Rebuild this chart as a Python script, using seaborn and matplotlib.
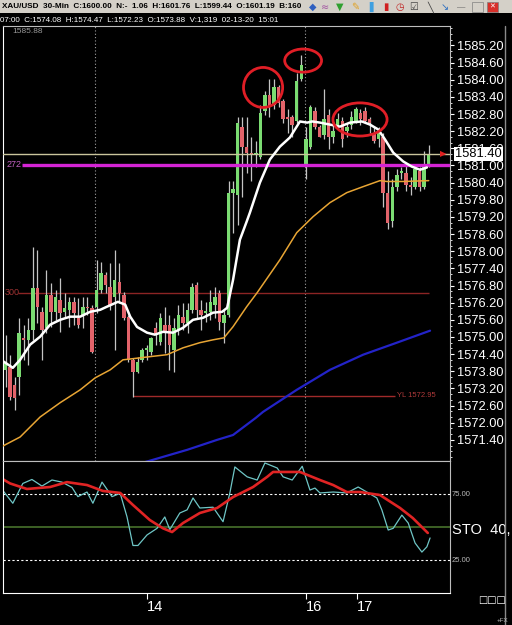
import numpy as np
import pandas as pd
import matplotlib
matplotlib.use("Agg")
from matplotlib import pyplot as plt
from matplotlib import transforms
from matplotlib.lines import Line2D
from matplotlib.patches import Ellipse, Rectangle
from matplotlib.ticker import MultipleLocator
import seaborn as sns

# XAU/USD 30-min candles (bar index 0..94)
opens = [1575.25, 1573.85, 1573.96, 1573.33, 1573.61, 1574.97, 1574.90, 1575.25, 1576.72, 1575.88,
         1575.32, 1576.48, 1575.88, 1576.30, 1575.88, 1575.95, 1576.23, 1575.67, 1575.78, 1576.06,
         1576.02, 1576.06, 1576.65, 1577.18, 1576.76, 1576.41, 1576.93, 1576.48, 1575.71, 1574.20,
         1573.78, 1574.20, 1574.55, 1574.48, 1575.32, 1574.83, 1575.43, 1575.43, 1574.55, 1575.25,
         1575.71, 1575.50, 1575.95, 1576.83, 1575.95, 1575.85, 1575.88, 1576.13, 1576.55, 1575.50,
         1575.78, 1580.05, 1579.98, 1582.36, 1581.63, 1581.45, 1581.38, 1581.31, 1582.89, 1583.48,
         1583.13, 1583.73, 1583.24, 1582.68, 1582.68, 1582.54, 1584.01, 1581.03, 1581.63, 1582.89,
         1582.33, 1582.08, 1582.78, 1582.01, 1582.43, 1582.54, 1582.19, 1582.43, 1582.54, 1582.85,
         1582.89, 1582.61, 1582.15, 1581.91, 1582.01, 1580.05, 1579.04, 1580.23, 1580.72, 1580.75,
         1580.33, 1580.26, 1580.79, 1580.26, 1581.03]
highs = [1575.60, 1575.08, 1574.38, 1573.61, 1575.67, 1575.43, 1575.67, 1578.16, 1578.05, 1576.06,
         1577.35, 1576.90, 1576.65, 1577.07, 1576.55, 1576.41, 1576.41, 1576.37, 1576.41, 1576.41,
         1576.13, 1577.70, 1577.63, 1577.28, 1577.60, 1578.05, 1577.60, 1576.58, 1575.78, 1574.27,
         1574.31, 1574.62, 1574.73, 1575.01, 1575.53, 1575.85, 1576.06, 1575.78, 1575.67, 1576.13,
         1576.20, 1576.20, 1576.90, 1576.93, 1576.30, 1576.23, 1576.65, 1576.76, 1576.65, 1575.95,
         1580.44, 1580.44, 1582.71, 1582.71, 1582.71, 1582.01, 1581.84, 1583.13, 1583.59, 1584.01,
         1584.01, 1583.83, 1583.31, 1582.96, 1582.78, 1584.25, 1584.88, 1582.36, 1583.13, 1583.03,
         1582.43, 1583.66, 1582.96, 1582.43, 1582.85, 1582.71, 1582.50, 1582.89, 1583.06, 1582.96,
         1583.06, 1582.71, 1582.33, 1582.33, 1582.15, 1580.79, 1580.51, 1580.86, 1580.96, 1581.10,
         1580.61, 1580.96, 1580.96, 1581.49, 1581.73]
lows = [1573.26, 1573.26, 1572.80, 1572.45, 1572.98, 1574.20, 1574.03, 1574.90, 1575.50, 1574.20,
        1575.15, 1575.36, 1575.60, 1575.18, 1575.71, 1575.36, 1575.43, 1575.32, 1575.32, 1575.78,
        1574.45, 1575.85, 1576.55, 1576.55, 1575.95, 1574.55, 1576.20, 1575.60, 1574.13, 1572.91,
        1573.75, 1574.13, 1574.20, 1574.38, 1574.73, 1574.73, 1574.45, 1573.85, 1573.78, 1575.08,
        1575.25, 1575.15, 1575.85, 1575.67, 1575.25, 1575.53, 1575.60, 1575.67, 1575.25, 1574.80,
        1575.71, 1578.65, 1578.93, 1579.91, 1580.75, 1580.44, 1580.96, 1581.21, 1582.78, 1582.71,
        1582.96, 1583.06, 1582.50, 1582.15, 1582.01, 1582.50, 1583.94, 1580.51, 1581.56, 1582.26,
        1581.98, 1581.91, 1581.56, 1581.80, 1582.26, 1581.63, 1582.01, 1582.26, 1582.50, 1582.43,
        1582.50, 1582.15, 1581.80, 1581.66, 1579.56, 1578.76, 1578.86, 1580.09, 1580.51, 1580.09,
        1579.98, 1580.16, 1580.09, 1580.16, 1580.96]
closes = [1573.96, 1574.10, 1572.91, 1572.87, 1575.15, 1574.90, 1575.25, 1576.72, 1576.06, 1575.25,
          1576.48, 1575.88, 1576.41, 1575.85, 1576.02, 1576.23, 1575.85, 1575.43, 1576.06, 1576.02,
          1574.48, 1576.65, 1577.25, 1576.83, 1576.13, 1577.00, 1576.55, 1575.67, 1574.20, 1573.78,
          1574.13, 1574.55, 1574.62, 1574.97, 1575.08, 1575.67, 1575.15, 1574.73, 1575.32, 1575.78,
          1575.50, 1575.95, 1576.76, 1575.95, 1575.78, 1575.92, 1576.23, 1576.41, 1575.53, 1575.78,
          1580.05, 1580.16, 1582.50, 1581.63, 1581.45, 1581.38, 1581.45, 1582.85, 1583.48, 1583.06,
          1583.76, 1583.20, 1582.61, 1582.61, 1582.43, 1583.94, 1584.53, 1581.91, 1583.06, 1582.33,
          1582.01, 1582.61, 1582.01, 1582.19, 1582.61, 1581.91, 1582.36, 1582.71, 1582.96, 1582.61,
          1582.54, 1582.50, 1581.84, 1582.19, 1580.05, 1579.00, 1580.26, 1580.68, 1580.79, 1580.33,
          1580.26, 1580.86, 1580.26, 1580.96, 1581.38]

# moving averages (white fast, orange mid, blue slow) read as points
white_x = [0, 2.6, 4.2, 6.4, 8.6, 10.8, 13.0, 15.2, 17.4, 19.6, 21.8, 23.3, 25.7, 27.3, 28.4, 29.9, 32.1,
           33.8, 35.6, 37.8, 40.0, 42.2, 44.4, 46.6, 48.6, 49.7, 51.0, 52.5, 54.0, 54.7, 56.9, 59.1, 61.3,
           63.5, 64.6, 65.7, 67.3, 68.4, 70.1, 72.3, 74.5, 76.7, 79.3, 81.1, 82.9, 84.4, 86.2, 88.4, 90.3,
           92.1, 93.6]
white_y = [1574.20, 1573.92, 1574.20, 1574.73, 1575.01, 1575.43, 1575.60, 1575.71, 1575.71, 1575.88,
           1575.95, 1576.06, 1576.23, 1576.13, 1575.71, 1575.35, 1575.15, 1575.08, 1575.18, 1575.15,
           1575.32, 1575.60, 1575.67, 1575.85, 1575.88, 1576.02, 1577.00, 1578.40, 1579.04, 1579.35,
           1580.40, 1581.21, 1581.66, 1581.98, 1582.26, 1582.54, 1582.50, 1582.54, 1582.50, 1582.43,
           1582.36, 1582.50, 1582.54, 1582.43, 1582.26, 1581.91, 1581.45, 1581.14, 1580.96, 1580.85,
           1580.93]
orange_x = [0, 4.2, 8.6, 13.0, 17.4, 20.7, 24.0, 26.8, 29.0, 32.7, 36.5, 40.0, 43.7, 46.6, 49.0, 51.0,
            54.0, 56.3, 61.3, 65.0, 68.6, 72.3, 76.0, 79.6, 83.3, 84.8, 88.4, 94.0]
orange_y = [1571.15, 1571.50, 1572.20, 1572.70, 1573.15, 1573.57, 1573.85, 1574.20, 1574.24, 1574.31,
            1574.38, 1574.62, 1574.80, 1574.90, 1574.97, 1575.36, 1576.06, 1576.55, 1577.70, 1578.65,
            1579.21, 1579.70, 1580.05, 1580.26, 1580.47, 1580.44, 1580.44, 1580.47]
blue_x = [31.2, 40.9, 47.5, 51.0, 56.0, 57.6, 65.0, 72.3, 79.6, 87.0, 94.3]
blue_y = [1570.60, 1571.05, 1571.40, 1571.57, 1572.17, 1572.38, 1573.15, 1573.85, 1574.38, 1574.80, 1575.22]

# stochastic %K (cyan) and %D (red)
k_x = [0, 2.6, 4.8, 6.8, 9.0, 11.2, 13.4, 15.6, 16.9, 18.9, 20.2, 22.2, 24.4, 26.2, 27.7, 29.0, 30.1,
       32.1, 34.3, 36.0, 37.1, 39.3, 40.9, 42.2, 43.7, 46.6, 48.8, 50.3, 51.4, 54.1, 56.3, 58.0, 60.7,
       62.0, 64.0, 66.2, 67.9, 69.0, 70.1, 73.0, 76.0, 78.5, 80.4, 82.6, 83.7, 85.1, 86.2, 88.1, 89.5,
       91.0, 92.5, 93.6, 94.3]
k_y = [79.5, 68.0, 83.0, 86.0, 81.0, 85.6, 84.0, 80.0, 73.0, 76.5, 68.0, 84.0, 73.0, 75.5, 57.6, 36.0,
       36.0, 44.0, 49.0, 57.6, 48.0, 60.6, 63.0, 72.0, 64.4, 65.0, 54.0, 75.8, 95.5, 88.0, 85.6, 98.5,
       94.7, 88.0, 85.6, 96.0, 78.0, 79.5, 75.8, 76.5, 75.8, 80.3, 76.5, 72.0, 63.0, 47.7, 49.0, 59.0,
       53.0, 37.9, 31.0, 35.0, 41.7]
d_x = [0, 2.0, 5.7, 10.8, 14.5, 18.9, 22.4, 26.2, 29.0, 32.7, 35.6, 37.6, 40.0, 43.7, 47.5, 51.0, 55.4,
       58.5, 59.8, 65.7, 70.1, 73.0, 76.0, 78.9, 83.3, 87.7, 90.5, 93.8]
d_y = [87.0, 83.0, 78.8, 80.3, 84.0, 81.8, 77.3, 75.8, 66.7, 55.3, 49.0, 46.2, 53.0, 60.6, 64.4, 72.7,
       80.3, 88.0, 91.7, 91.7, 85.6, 81.8, 76.5, 76.5, 74.2, 64.4, 56.8, 45.5]

price_ticks = [1571.40, 1572.00, 1572.60, 1573.20, 1573.80, 1574.40, 1575.00, 1575.60, 1576.20, 1576.80,
               1577.40, 1578.00, 1578.60, 1579.20, 1579.80, 1580.40, 1581.00, 1581.60, 1582.20, 1582.80,
               1583.40, 1584.00, 1584.60, 1585.20]
day_ticks = [32.1, 67.0, 78.2]
day_labels = ["14", "16", "17"]
session_lines = [20.7, 66.8]

last_price = 1581.40
line_272 = 1581.03
line_300 = 1576.55
yl_price = 1572.95

# hand drawn circles: centre bar, centre price
circle_x = [57.6, 66.4, 78.9]
circle_y = [1583.73, 1584.67, 1582.61]

header = "XAU/USD  30-Min  C:1600.00  N:-  1.06  H:1601.76  L:1599.44  O:1601.19  B:160"
subheader = "07:00  C:1574.08  H:1574.47  L:1572.23  O:1573.88  V:1,319  02-13-20  15:01"

sns.set_style("dark", {"axes.facecolor": "black", "figure.facecolor": "black",
                       "axes.edgecolor": "white", "text.color": "white",
                       "xtick.color": "white", "ytick.color": "white", "axes.grid": False})
plt.rcParams["font.family"] = ["Liberation Sans", "DejaVu Sans"]

W, H = 512, 625
fig = plt.figure(figsize=(W / 100, H / 100), dpi=100)


def box(x0, y0, x1, y1):
    return [x0 / W, 1 - y1 / H, (x1 - x0) / W, (y1 - y0) / H]


def fit(t, width_px):
    r = fig.canvas.get_renderer()
    w = t.get_window_extent(r).width
    t.set_fontsize(t.get_fontsize() * width_px / w)


ax = fig.add_axes(box(3, 26, 450, 461))
ax2 = fig.add_axes(box(3, 461, 450, 593))
xlim = (0.44, 98.68)

# candles
bars = pd.DataFrame({"o": opens, "h": highs, "l": lows, "c": closes})
bars["i"] = np.arange(len(bars))
up = bars.c >= bars.o
body = bars.c - bars.o
body = body.where(body.abs() > 0.05, np.where(up, 0.05, -0.05))
ax.vlines(bars.i, bars.l, bars.h, color="#c4c4c4", lw=0.9, zorder=2)
ax.bar(bars.i, body, bottom=bars.o, width=0.76, color=np.where(up, "#7bdc72", "#e2636a"),
       linewidth=0, zorder=3)

# levels
ax.axhline(last_price, color="#c9c59c", lw=1, zorder=4)
ax.hlines(line_272, 4.6, xlim[1], color="#d424d4", lw=2.4, zorder=4)
ax.hlines(line_300, 3.7, 94.1, color="#8c2424", lw=1, zorder=1)
ax.hlines(yl_price, 29.0, 86.6, color="#a02a2a", lw=1, zorder=1)
for gx in session_lines:
    ax.axvline(gx, color="#a0a0a0", ls=(0, (1, 2)), lw=0.8, zorder=0)

# moving averages
sns.lineplot(x=blue_x, y=blue_y, ax=ax, color="#2323c8", lw=1.6, zorder=5)
sns.lineplot(x=orange_x, y=orange_y, ax=ax, color="#e8a534", lw=1.1, zorder=5)
sns.lineplot(x=white_x, y=white_y, ax=ax, color="white", lw=1.8, zorder=6)

for cx, cy, (w, h) in zip(circle_x, circle_y, [(8.6, 1.40), (8.1, 0.81), (11.9, 1.16)]):
    ax.add_patch(Ellipse((cx, cy), w, h, fill=False, edgecolor="#e01e26", lw=2, zorder=7))

ax.set_xlim(*xlim)
ax.set_ylim(1570.66, 1585.88)
ax.set_xlabel("")
ax.set_ylabel("")
ax.yaxis.tick_right()
ax.set_yticks(price_ticks)
ax.set_yticklabels([f"{v:.2f}" for v in price_ticks])
ax.yaxis.set_minor_locator(MultipleLocator(0.2))
ax.tick_params(axis="y", which="major", colors="white", length=3, pad=2, labelsize=9.3,
               direction="out", left=False, right=True)
ax.tick_params(axis="y", which="minor", colors="white", length=1.5, left=False, right=True)
ax.tick_params(axis="x", bottom=False, labelbottom=False)
for side in ["left", "bottom"]:
    ax.spines[side].set_color("white")
for side in ["top", "right"]:
    ax.spines[side].set_color("#bdbdbd")

blend = transforms.blended_transform_factory(ax.transAxes, ax.transData)
ax.text(0.009, line_272, "272", transform=blend, color="#c060c0", fontsize=6.5, va="center")
ax.text(0.004, line_300, "300", transform=blend, color="#a03434", fontsize=6.5, va="center")
ax.text(0.881, yl_price, f"YL {yl_price:.2f}", transform=blend, color="#b03a3a", fontsize=5.5,
        va="center")
ax.text(0.02, 0.9885, "1585.88", transform=ax.transAxes, color="#9a9a9a", fontsize=6, va="center")
ax.text(0.978, last_price, "\u25b6", transform=blend, color="#e02020", fontsize=6, va="center",
        zorder=8)
ax.text(1.0 + 5 / 447, last_price, f"{last_price:.2f}", transform=blend, color="black",
        fontsize=9.3, va="center", zorder=9, clip_on=False,
        bbox=dict(facecolor="white", edgecolor="none", pad=1.0))

# stochastic panel
ax2.axhline(75, color="white", ls=(0, (2, 2)), lw=0.8)
ax2.axhline(25, color="white", ls=(0, (2, 2)), lw=0.8)
ax2.axhline(50, color="#4d7b30", lw=1.1)
sns.lineplot(x=k_x, y=k_y, ax=ax2, color="#6fc6c6", lw=0.9)
sns.lineplot(x=d_x, y=d_y, ax=ax2, color="#e02424", lw=1.9)
ax2.set_xlim(*xlim)
ax2.set_ylim(0, 100)
ax2.set_xlabel("")
ax2.set_ylabel("")
ax2.set_yticks([])
ax2.set_xticks(day_ticks)
ax2.set_xticklabels(day_labels, ha="left")
ax2.tick_params(axis="x", colors="white", length=4, labelsize=10.5, pad=1, bottom=True)
for side in ["left", "bottom"]:
    ax2.spines[side].set_color("white")
for side in ["top", "right"]:
    ax2.spines[side].set_color("#bdbdbd")
blend2 = transforms.blended_transform_factory(ax2.transAxes, ax2.transData)
ax2.text(1.004, 75, "75.00", transform=blend2, color="#b8b8b8", fontsize=5.5, va="center")
ax2.text(1.004, 25, "25.00", transform=blend2, color="#b8b8b8", fontsize=5.5, va="center")
ax2.text(1.004, 47.5, "STO  40,", transform=blend2, color="white", fontsize=10.5, va="center")

# window chrome
fig.add_artist(Rectangle((0, 1 - 13 / H), 1, 13 / H, transform=fig.transFigure,
                         facecolor="#d4d0c8", edgecolor="none"))
t1 = fig.text(2 / W, 1 - 7 / H, header, color="black", weight="bold", fontsize=7, va="center")
fit(t1, 303)
t2 = fig.text(0, 1 - 20 / H, subheader, color="white", fontsize=7, va="center")
fit(t2, 275)
# toolbar icons (rough glyph stand-ins)
for gx, glyph, col in [(313, "\u25c6", "#3060c0"), (325, "\u2248", "#a050a0"), (340, "\u25bc", "#30a030"),
                       (355, "\u270e", "#e0a020"), (369, "\u2590", "#40a0e0"), (386, "\u25ae", "#d02020"),
                       (400, "\u25f7", "#c02020"), (414, "\u2611", "#404040"), (430, "\u2572", "#404040"),
                       (445, "\u2198", "#3070c0")]:
    fig.text(gx / W, 1 - 7 / H, glyph, color=col, fontsize=7, ha="center", va="center",
             family="DejaVu Sans")
fig.add_artist(Rectangle((487 / W, 1 - 12 / H), 11 / W, 10 / H, transform=fig.transFigure,
                         facecolor="#d8302a", edgecolor="#808080", lw=0.5))
fig.text(492.5 / W, 1 - 7 / H, "\u2715", color="white", fontsize=5, ha="center", va="center",
         family="DejaVu Sans")
fig.add_artist(Rectangle((472 / W, 1 - 12 / H), 11 / W, 10 / H, transform=fig.transFigure,
                         facecolor="#d4d0c8", edgecolor="#808080", lw=0.5))
fig.text(461 / W, 1 - 8 / H, "\u2014", color="#606060", fontsize=6, ha="center", va="center")
fig.add_artist(Line2D([505 / W, 505 / W], [0, 1 - 26 / H], transform=fig.transFigure,
                      color="#8a8a8a", lw=1))
fig.text(478 / W, 1 - 600 / H, "\u25a1\u25a1\u25a1", color="white", fontsize=7, va="center",
         family="DejaVu Sans")
fig.text(497 / W, 1 - 620 / H, "+FX", color="#c0c0c0", fontsize=4.5, va="center")

fig.savefig("out.png", dpi=100, facecolor="black")
